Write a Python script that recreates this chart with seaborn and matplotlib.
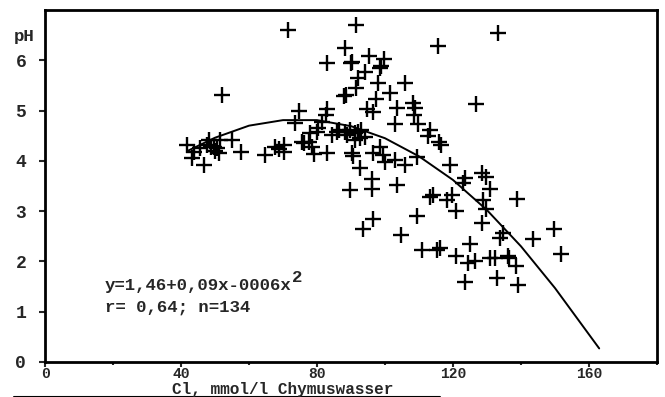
import matplotlib
matplotlib.use("Agg")
import matplotlib.pyplot as plt
from matplotlib.ticker import MultipleLocator
import seaborn as sns
import pandas as pd

# Cl (mmol/l Chymuswasser) vs pH
cl = [41.8, 43.3, 43.8, 45.5, 46.7, 47.7, 48.2, 48.7, 49.6, 50.0, 50.6, 51.1, 51.6, 52.1, 55.0, 57.7,
      64.8, 67.7, 68.7, 70.2, 70.2, 71.6, 73.6, 74.6, 75.6, 76.2, 77.5, 78.5, 79.0, 78.0, 80.0, 80.4,
      81.4, 82.7, 83.0, 82.9, 82.9,
      84.4, 85.8, 86.5, 87.8, 88.4, 88.2, 88.3, 88.8, 89.7, 89.7, 89.9, 90.4, 90.2, 90.6, 91.2, 91.2,
      91.6, 91.6, 92.2, 92.2, 92.7, 92.7, 93.0, 93.6, 94.2, 94.1, 94.6, 95.2, 96.1, 96.1, 96.6, 96.6,
      96.6, 97.3, 97.8, 98.4, 98.8, 98.5, 99.5, 99.6, 100.0,
      101.5, 102.9, 102.9, 103.4, 103.4, 104.6, 105.9, 105.9, 108.3, 108.4, 108.8, 109.6, 109.3, 109.5,
      110.8, 112.5, 113.2, 113.2, 114.2, 115.3, 116.3, 115.6, 116.0, 116.6, 118.1, 119.6, 119.1,
      120.8, 120.8, 123.0, 123.5, 123.5, 124.4, 124.9, 126.4, 126.9, 128.4, 128.6, 129.8, 130.8, 128.8,
      129.8, 130.8, 132.3, 132.8, 133.2, 133.7, 134.7, 136.2, 136.6, 138.9, 138.6, 139.1, 143.5, 149.6,
      151.8]
ph = [4.31, 4.05, 4.18, 4.25, 3.92, 4.31, 4.41, 4.28, 4.28, 4.20, 4.25, 4.15, 4.41, 5.31, 4.41, 4.18,
      4.12, 4.28, 4.23, 4.31, 4.18, 6.60, 4.75, 4.99, 4.38, 4.36, 4.38, 4.28, 4.13, 4.55, 4.58, 4.65,
      4.78, 4.91, 5.04, 4.15, 5.94,
      4.51, 4.58, 4.62, 5.28, 5.31, 6.24, 4.58, 4.51, 4.61, 3.43, 5.95, 5.97, 4.15, 4.10, 4.55, 4.41,
      6.71, 5.44, 4.58, 5.64, 4.45, 3.85, 4.62, 2.65, 5.76, 4.48, 5.04, 6.09, 3.64, 3.45, 4.97, 4.15,
      2.85, 5.23, 5.54, 5.84, 5.88, 4.28, 4.12, 6.02, 3.98,
      5.35, 4.74, 4.02, 5.06, 3.52, 2.52, 5.55, 3.92, 5.16, 4.92, 5.05, 4.74, 4.08, 2.90,
      2.23, 4.50, 4.62, 3.29, 3.32, 2.23, 2.26, 6.29, 4.38, 4.31, 3.22, 3.32, 3.92,
      3.01, 2.11, 3.56, 3.65, 1.60, 1.96, 2.35, 2.01, 5.14, 2.76, 3.75, 3.68, 3.45, 3.22,
      3.04, 2.06, 2.06, 1.68, 6.54, 2.46, 2.56, 2.11, 2.07, 3.24, 1.90, 1.53, 2.44, 2.64,
      2.15]

# fitted curve as drawn
curve_cl = [42, 50, 60, 70, 80, 90, 100, 110, 120, 130, 140, 150, 163]
curve_ph = [4.20, 4.46, 4.70, 4.81, 4.81, 4.69, 4.45, 4.09, 3.62, 3.02, 2.30, 1.47, 0.27]

x_ticks = [0, 40, 80, 120, 160]
y_ticks = [0, 1, 2, 3, 4, 5, 6]
eq_line = "y=1,46+0,09x-0006x"
stat_line = "r= 0,64; n=134"

df = pd.DataFrame({"cl": cl, "ph": ph})
fit = pd.DataFrame({"cl": curve_cl, "ph": curve_ph})

sns.set_style("white")
plt.rcParams['font.family'] = ['Liberation Mono', 'DejaVu Sans Mono']
plt.rcParams['font.weight'] = 'bold'

fig = plt.figure(figsize=(6.65, 3.97), dpi=100)
ax = fig.add_axes([45/665, 1 - 362/397, 612/665, 352/397])

sns.scatterplot(data=df, x="cl", y="ph", marker="+", color="black", s=120, linewidth=1.7, ax=ax)
sns.lineplot(data=fit, x="cl", y="ph", color="black", linewidth=1.4, ax=ax)

ax.set_xlim(0, 180)
ax.set_ylim(0, 7)
ax.set_xticks(x_ticks)
ax.set_yticks(y_ticks)
ax.xaxis.set_minor_locator(MultipleLocator(20))
ax.set_xlabel("")
ax.set_ylabel("")
for s in ax.spines.values():
    s.set_color("black")
    s.set_linewidth(2)
ax.tick_params(axis="x", which="major", direction="out", length=3.5, width=1.5, pad=0,
               labelsize=10.5, bottom=True)
ax.tick_params(axis="x", which="minor", direction="out", length=2.5, width=1.5, bottom=True)
ax.tick_params(axis="y", direction="out", length=4.5, width=1.5, pad=9, labelsize=13, left=True)
for lab in ax.get_xticklabels() + ax.get_yticklabels():
    lab.set_fontweight("bold")

ax.text(-0.034, 0.925, "pH", transform=ax.transAxes, fontsize=12.5, fontweight="bold",
        ha="center", va="center")

eq = ax.text(17.6, 1.52, eq_line, fontsize=12.5, fontweight="bold", va="center", ha="left")
ax.annotate("2", xy=(1.0, 0.55), xycoords=eq, fontsize=12.5, fontweight="bold",
            va="bottom", ha="left")
ax.text(17.6, 1.08, stat_line, fontsize=12.5, fontweight="bold", va="center", ha="left")

fig.text(283/665, 1 - 389.5/397, "Cl, mmol/l Chymuswasser", fontsize=11.5, fontweight="bold",
         ha="center", va="center")
fig.add_artist(plt.Line2D([14/665, 440/665], [1 - 396.5/397, 1 - 396.5/397], color="black", lw=1.5))

fig.savefig("out.png", dpi=100)
